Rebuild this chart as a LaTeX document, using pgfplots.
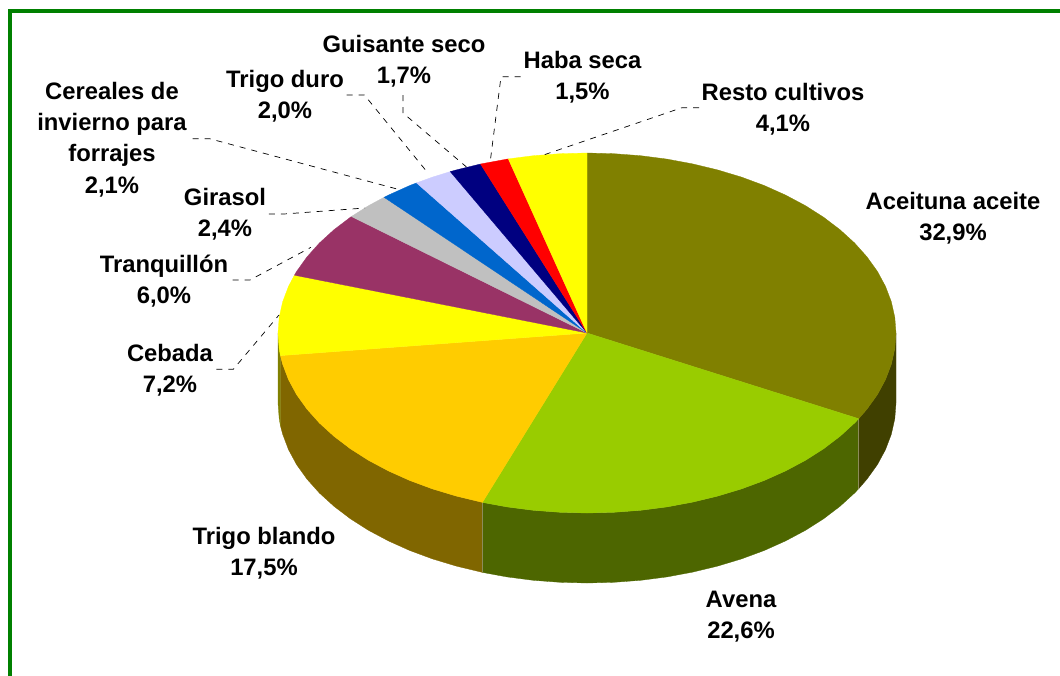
\documentclass[border=0pt]{standalone}
\usepackage{pgfplots}
\pgfplotsset{compat=1.18}
\usepackage{fontspec}
\setmainfont{Liberation Sans}
\definecolor{cAce}{HTML}{808000}
\definecolor{cAve}{HTML}{99CC00}
\definecolor{cTbl}{HTML}{FFCC00}
\definecolor{cCeb}{HTML}{FFFF00}
\definecolor{cTra}{HTML}{993366}
\definecolor{cGir}{HTML}{C0C0C0}
\definecolor{cCer}{HTML}{0066CC}
\definecolor{cTdu}{HTML}{CCCCFF}
\definecolor{cGui}{HTML}{000080}
\definecolor{cHab}{HTML}{FF0000}
\definecolor{cRes}{HTML}{FFFF00}
\definecolor{dAce}{HTML}{404000}
\definecolor{dAve}{HTML}{4D6600}
\definecolor{dTbl}{HTML}{806600}
\definecolor{dCeb}{HTML}{808000}
\definecolor{frame}{HTML}{008000}
\definecolor{seam}{HTML}{8C8C5A}
\pgfplotsset{
  wedge/.style={draw=#1,fill=#1,line width=0.3pt,mark=none,line join=round},
  leader/.style={draw=black,line width=0.7pt,dash pattern=on 6pt off 6pt,mark=none},
}
\tikzset{lab/.style={align=center,font=\fontsize{23.8}{31.2}\selectfont\bfseries,text=black,inner sep=0pt}}
\begin{document}
\begin{tikzpicture}
\useasboundingbox (0,0) rectangle (1060pt,675pt);
\begin{axis}[
  at={(0,0)},anchor=south west,
  scale only axis,width=1060pt,height=675pt,
  xmin=0,xmax=1060,ymin=0,ymax=675,y dir=reverse,hide axis,
]
% frame
\addplot[draw=frame,line width=4pt,mark=none,line join=miter] coordinates {(10,680) (10,11) (1065,11)};
% side walls
\addplot[wedge=dAce] coordinates {(896,333) (894.8,348.7) (891.3,364.3) (885.5,379.6) (877.4,394.6) (867,409.1) (858.7,418.7) (858.7,488.7) (867,479.1) (877.4,464.6) (885.5,449.6) (891.3,434.3) (894.8,418.7) (896,403)} --cycle;
\addplot[wedge=dAve] coordinates {(858.7,418.7) (854.6,423) (840.1,436.2) (823.7,448.7) (805.5,460.3) (785.6,470.9) (764.2,480.5) (741.5,488.9) (717.6,496.1) (692.7,502.1) (667,506.9) (640.7,510.3) (613.9,512.3) (587,513) (560.1,512.3) (533.3,510.3) (507,506.9) (482.4,502.4) (482.4,572.4) (507,576.9) (533.3,580.3) (560.1,582.3) (587,583) (613.9,582.3) (640.7,580.3) (667,576.9) (692.7,572.1) (717.6,566.1) (741.5,558.9) (764.2,550.5) (785.6,540.9) (805.5,530.3) (823.7,518.7) (840.1,506.2) (854.6,493) (858.7,488.7)} --cycle;
\addplot[wedge=dTbl] coordinates {(482.4,502.4) (481.3,502.1) (456.4,496.1) (432.5,488.9) (409.8,480.5) (388.4,470.9) (368.5,460.3) (350.3,448.7) (333.9,436.2) (319.4,423) (307,409.1) (296.6,394.6) (288.5,379.6) (282.7,364.3) (280.4,355.6) (280.4,425.6) (282.7,434.3) (288.5,449.6) (296.6,464.6) (307,479.1) (319.4,493) (333.9,506.2) (350.3,518.7) (368.5,530.3) (388.4,540.9) (409.8,550.5) (432.5,558.9) (456.4,566.1) (481.3,572.1) (482.4,572.4)} --cycle;
\addplot[wedge=dCeb] coordinates {(280.4,355.6) (279.2,348.7) (278,333) (278,403) (279.2,418.7) (280.4,425.6)} --cycle;
\addplot[draw=seam,line width=0.6pt,mark=none] coordinates {(858.7,418.7) (858.7,488.7)};
\addplot[draw=seam,line width=0.6pt,mark=none] coordinates {(482.4,502.4) (482.4,572.4)};
% top slices
\addplot[wedge=cAce] coordinates {(587,333) (587,153) (613.9,153.7) (640.7,155.7) (667,159.1) (692.7,163.9) (717.6,169.9) (741.5,177.1) (764.2,185.5) (785.6,195.1) (805.5,205.7) (823.7,217.3) (840.1,229.8) (854.6,243) (867,256.9) (877.4,271.4) (885.5,286.4) (891.3,301.7) (894.8,317.3) (896,333) (894.8,348.7) (891.3,364.3) (885.5,379.6) (877.4,394.6) (867,409.1) (858.7,418.7)} --cycle;
\addplot[wedge=cAve] coordinates {(587,333) (858.7,418.7) (854.6,423) (840.1,436.2) (823.7,448.7) (805.5,460.3) (785.6,470.9) (764.2,480.5) (741.5,488.9) (717.6,496.1) (692.7,502.1) (667,506.9) (640.7,510.3) (613.9,512.3) (587,513) (560.1,512.3) (533.3,510.3) (507,506.9) (482.4,502.4)} --cycle;
\addplot[wedge=cTbl] coordinates {(587,333) (482.4,502.4) (481.3,502.1) (456.4,496.1) (432.5,488.9) (409.8,480.5) (388.4,470.9) (368.5,460.3) (350.3,448.7) (333.9,436.2) (319.4,423) (307,409.1) (296.6,394.6) (288.5,379.6) (282.7,364.3) (280.4,355.6)} --cycle;
\addplot[wedge=cCeb] coordinates {(587,333) (280.4,355.6) (279.2,348.7) (278,333) (279.2,317.3) (282.7,301.7) (288.5,286.4) (294.4,275.2)} --cycle;
\addplot[wedge=cTra] coordinates {(587,333) (294.4,275.2) (296.6,271.4) (307,256.9) (319.4,243) (333.9,229.8) (350.3,217.3) (351.4,216.5)} --cycle;
\addplot[wedge=cGir] coordinates {(587,333) (351.4,216.5) (368.5,205.7) (384.1,197.3)} --cycle;
\addplot[wedge=cCer] coordinates {(587,333) (384.1,197.3) (388.4,195.1) (409.8,185.5) (416.5,182.9)} --cycle;
\addplot[wedge=cTdu] coordinates {(587,333) (416.5,182.9) (432.5,177.1) (450.2,171.6)} --cycle;
\addplot[wedge=cGui] coordinates {(587,333) (450.2,171.6) (456.4,169.9) (480.5,164)} --cycle;
\addplot[wedge=cHab] coordinates {(587,333) (480.5,164) (507,159.1) (508.3,158.9)} --cycle;
\addplot[wedge=cRes] coordinates {(587,333) (508.3,158.9) (533.3,155.7) (560.1,153.7) (587,153)} --cycle;
% leader lines
\addplot[leader] coordinates {(403,95) (403,113) (466.5,167)};
\addplot[leader] coordinates {(346.5,95) (364.4,95) (427.7,172.7)};
\addplot[leader] coordinates {(192.7,138.7) (209.6,138.7) (397,189)};
\addplot[leader] coordinates {(268.8,214) (284,214) (365,208)};
\addplot[leader] coordinates {(232.6,280) (250,280) (311,247.3)};
\addplot[leader] coordinates {(216.4,369.3) (233.3,369.3) (279,315)};
\addplot[leader] coordinates {(520.6,76.7) (501,76.7) (490.2,161.7)};
\addplot[leader] coordinates {(699,107.7) (682,107.7) (543.5,155)};
% labels
\node[lab] at (axis cs:953,218.5) {Aceituna aceite\\32,9\%};
\node[lab] at (axis cs:741,616.5) {Avena\\22,6\%};
\node[lab] at (axis cs:264,553.5) {Trigo blando\\17,5\%};
\node[lab] at (axis cs:170,370.5) {Cebada\\7,2\%};
\node[lab] at (axis cs:164,281.5) {Tranquillón\\6,0\%};
\node[lab] at (axis cs:225,214.5) {Girasol\\2,4\%};
\node[lab] at (axis cs:112,139.5) {Cereales de\\invierno para\\forrajes\\2,1\%};
\node[lab] at (axis cs:285,96.5) {Trigo duro\\2,0\%};
\node[lab] at (axis cs:404,61.5) {Guisante seco\\1,7\%};
\node[lab] at (axis cs:582.5,77.5) {Haba seca\\1,5\%};
\node[lab] at (axis cs:783,109.5) {Resto cultivos\\4,1\%};
\end{axis}
\end{tikzpicture}
\end{document}
